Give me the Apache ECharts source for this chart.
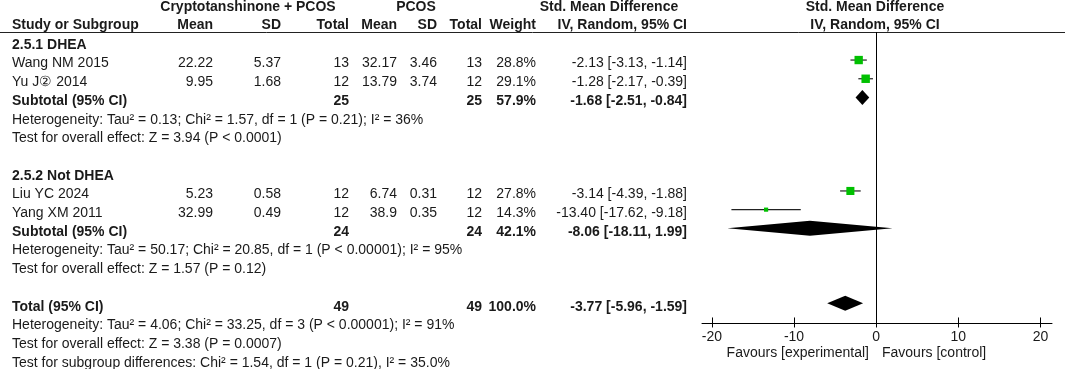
<!DOCTYPE html>
<html>
<head>
<meta charset="utf-8">
<script src="https://cdn.jsdelivr.net/npm/echarts@6/dist/echarts.min.js"></script>
<style>
  html, body { margin: 0; padding: 0; background: #fff; }
  #chart { width: 1065px; height: 369px; }
</style>
</head>
<body>
<div id="chart"></div>
<script>
// study level data
const studies = ['Wang NM 2015', 'Yu J② 2014', 'Liu YC 2024', 'Yang XM 2011']
const studyGroup = [0, 0, 1, 1]
const expMean = [22.22, 9.95, 5.23, 32.99]
const expSD = [5.37, 1.68, 0.58, 0.49]
const expN = [13, 12, 12, 12]
const ctlMean = [32.17, 13.79, 6.74, 38.9]
const ctlSD = [3.46, 3.74, 0.31, 0.35]
const ctlN = [13, 12, 12, 12]
const weight = [28.8, 29.1, 27.8, 14.3]
const smd = [-2.13, -1.28, -3.14, -13.40]
const smdLo = [-3.13, -2.17, -4.39, -17.62]
const smdHi = [-1.14, -0.39, -1.88, -9.18]

// subgroups
const groups = ['2.5.1 DHEA', '2.5.2 Not DHEA']
const subExpN = [25, 24]
const subCtlN = [25, 24]
const subWeight = [57.9, 42.1]
const subSmd = [-1.68, -8.06]
const subLo = [-2.51, -18.11]
const subHi = [-0.84, 1.99]
const subHet = [
  'Heterogeneity: Tau² = 0.13; Chi² = 1.57, df = 1 (P = 0.21); I² = 36%',
  'Heterogeneity: Tau² = 50.17; Chi² = 20.85, df = 1 (P < 0.00001); I² = 95%',
]
const subTest = [
  'Test for overall effect: Z = 3.94 (P < 0.0001)',
  'Test for overall effect: Z = 1.57 (P = 0.12)',
]

// overall
const totExpN = 49
const totCtlN = 49
const totWeight = 100.0
const totSmd = -3.77
const totLo = -5.96
const totHi = -1.59
const totNotes = [
  'Heterogeneity: Tau² = 4.06; Chi² = 33.25, df = 3 (P < 0.00001); I² = 91%',
  'Test for overall effect: Z = 3.38 (P = 0.0007)',
  'Test for subgroup differences: Chi² = 1.54, df = 1 (P = 0.21), I² = 35.0%',
]

// axis
const xTicks = [-20, -10, 0, 10, 20]

const FONT = '"Liberation Sans", Arial, sans-serif'
const col = { name: 12, eMean: 213, eSD: 281, eN: 349, cMean: 397, cSD: 437, cN: 482, w: 536, ci: 687 }
const PITCH = 18.7
const Y_MAX = 15.06 // row value at the x axis line
const TEXT_DY = 3.5

const fmtCI = (e, l, h) => `${e.toFixed(2)} [${l.toFixed(2)}, ${h.toFixed(2)}]`
const items = []
function txt(x, row, text, align, bold) {
  items.push({ x, row, text: String(text), align, bold })
}

// headers
const H1 = -2.03
const H2 = -1.08
txt(248, H1, 'Cryptotanshinone + PCOS', 'center', true)
txt(416, H1, 'PCOS', 'center', true)
txt(609, H1, 'Std. Mean Difference', 'center', true)
txt(875, H1, 'Std. Mean Difference', 'center', true)
txt(col.name, H2, 'Study or Subgroup', 'left', true)
txt(col.eMean, H2, 'Mean', 'right', true)
txt(col.eSD, H2, 'SD', 'right', true)
txt(col.eN, H2, 'Total', 'right', true)
txt(col.cMean, H2, 'Mean', 'right', true)
txt(col.cSD, H2, 'SD', 'right', true)
txt(col.cN, H2, 'Total', 'right', true)
txt(col.w, H2, 'Weight', 'right', true)
txt(col.ci, H2, 'IV, Random, 95% CI', 'right', true)
txt(875, H2, 'IV, Random, 95% CI', 'center', true)

const studyRows = []
const diamonds = []
let row = 0
groups.forEach((g, gi) => {
  txt(col.name, row, g, 'left', true)
  row++
  studies.forEach((s, i) => {
    if (studyGroup[i] !== gi) return
    txt(col.name, row, s, 'left', false)
    txt(col.eMean, row, expMean[i], 'right', false)
    txt(col.eSD, row, expSD[i], 'right', false)
    txt(col.eN, row, expN[i], 'right', false)
    txt(col.cMean, row, ctlMean[i], 'right', false)
    txt(col.cSD, row, ctlSD[i], 'right', false)
    txt(col.cN, row, ctlN[i], 'right', false)
    txt(col.w, row, weight[i].toFixed(1) + '%', 'right', false)
    txt(col.ci, row, fmtCI(smd[i], smdLo[i], smdHi[i]), 'right', false)
    studyRows[i] = row
    row++
  })
  txt(col.name, row, 'Subtotal (95% CI)', 'left', true)
  txt(col.eN, row, subExpN[gi], 'right', true)
  txt(col.cN, row, subCtlN[gi], 'right', true)
  txt(col.w, row, subWeight[gi].toFixed(1) + '%', 'right', true)
  txt(col.ci, row, fmtCI(subSmd[gi], subLo[gi], subHi[gi]), 'right', true)
  diamonds.push([subLo[gi], subSmd[gi], subHi[gi], row])
  row++
  txt(col.name, row++, subHet[gi], 'left', false)
  txt(col.name, row++, subTest[gi], 'left', false)
  row++
})
txt(col.name, row, 'Total (95% CI)', 'left', true)
txt(col.eN, row, totExpN, 'right', true)
txt(col.cN, row, totCtlN, 'right', true)
txt(col.w, row, totWeight.toFixed(1) + '%', 'right', true)
txt(col.ci, row, fmtCI(totSmd, totLo, totHi), 'right', true)
diamonds.push([totLo, totSmd, totHi, row])
row++
totNotes.forEach(n => txt(col.name, row++, n, 'left', false))

txt(869, 16.48, 'Favours [experimental]', 'right', false)
txt(882, 16.48, 'Favours [control]', 'left', false)

const chart = echarts.init(document.getElementById('chart'))

chart.setOption({
  animation: false,
  grid: [
    { left: 702, right: 13, top: 32, height: PITCH * (Y_MAX + 0.5) },
    { left: 0, right: 0, top: 32, bottom: 0 },
  ],
  xAxis: [
    {
      type: 'value',
      gridIndex: 0,
      min: -21.2,
      max: 21.4,
      splitLine: { show: false },
      axisLine: { show: true, onZero: false, lineStyle: { color: '#000', width: 1 } },
      axisTick: { show: false },
      axisLabel: { customValues: xTicks, color: '#1a1a1a', fontSize: 14, fontFamily: FONT, margin: 7 },
    },
    { type: 'value', gridIndex: 1, min: 0, max: 1065, show: false },
  ],
  yAxis: [
    { type: 'value', gridIndex: 0, min: -0.5, max: Y_MAX, inverse: true, show: false },
    { type: 'value', gridIndex: 1, min: -0.5, max: -0.5 + 337 / PITCH, inverse: true, show: false },
  ],
  series: [
    {
      // header rule
      type: 'line',
      xAxisIndex: 1,
      yAxisIndex: 1,
      data: [],
      markLine: {
        silent: true,
        symbol: 'none',
        label: { show: false },
        lineStyle: { color: '#222', type: 'solid', width: 1 },
        data: [{ yAxis: -0.5 }],
      },
    },
    {
      type: 'custom',
      xAxisIndex: 1,
      yAxisIndex: 1,
      clip: false,
      data: items.map((it, i) => [it.x, it.row, i]),
      renderItem: (params, api) => {
        const it = items[api.value(2)]
        const p = api.coord([api.value(0), api.value(1)])
        return {
          type: 'text',
          x: p[0],
          y: p[1] + TEXT_DY,
          style: {
            text: it.text,
            fill: '#1a1a1a',
            font: (it.bold ? 'bold ' : '') + '14px ' + FONT,
            align: it.align,
            verticalAlign: 'middle',
          },
        }
      },
    },
    {
      // axis ticks crossing the axis line
      type: 'custom',
      xAxisIndex: 0,
      yAxisIndex: 0,
      clip: false,
      data: xTicks.map(t => [t, Y_MAX]),
      renderItem: (params, api) => {
        const p = api.coord([api.value(0), api.value(1)])
        const x = Math.round(p[0]) + 0.5
        return {
          type: 'line',
          shape: { x1: x, y1: p[1] - 5.5, x2: x, y2: p[1] + 4.5 },
          style: { stroke: '#000', lineWidth: 1 },
        }
      },
    },
    {
      // confidence intervals
      type: 'custom',
      xAxisIndex: 0,
      yAxisIndex: 0,
      data: studies.map((s, i) => [smdLo[i], smdHi[i], studyRows[i]]),
      renderItem: (params, api) => {
        const a = api.coord([api.value(0), api.value(2)])
        const b = api.coord([api.value(1), api.value(2)])
        return {
          type: 'line',
          shape: { x1: a[0], y1: a[1], x2: b[0], y2: b[1] },
          style: { stroke: '#222', lineWidth: 1.2 },
        }
      },
    },
    {
      type: 'scatter',
      xAxisIndex: 0,
      yAxisIndex: 0,
      symbol: 'rect',
      symbolSize: (val, params) => weight[params.dataIndex] * 0.29,
      itemStyle: { color: '#00c000', opacity: 1 },
      data: studies.map((s, i) => [smd[i], studyRows[i]]),
      z: 3,
      markLine: {
        silent: true,
        symbol: 'none',
        label: { show: false },
        lineStyle: { color: '#000', type: 'solid', width: 1 },
        data: [{ xAxis: 0 }],
      },
    },
    {
      // pooled diamonds
      type: 'custom',
      xAxisIndex: 0,
      yAxisIndex: 0,
      clip: false,
      data: diamonds,
      z: 4,
      renderItem: (params, api) => {
        const r = api.value(3)
        const l = api.coord([api.value(0), r])
        const m = api.coord([api.value(1), r])
        const h = api.coord([api.value(2), r])
        return {
          type: 'polygon',
          shape: { points: [l, [m[0], m[1] - 7.5], h, [m[0], m[1] + 7.5]] },
          style: { fill: '#000' },
        }
      },
    },
  ],
})
</script>
</body>
</html>
